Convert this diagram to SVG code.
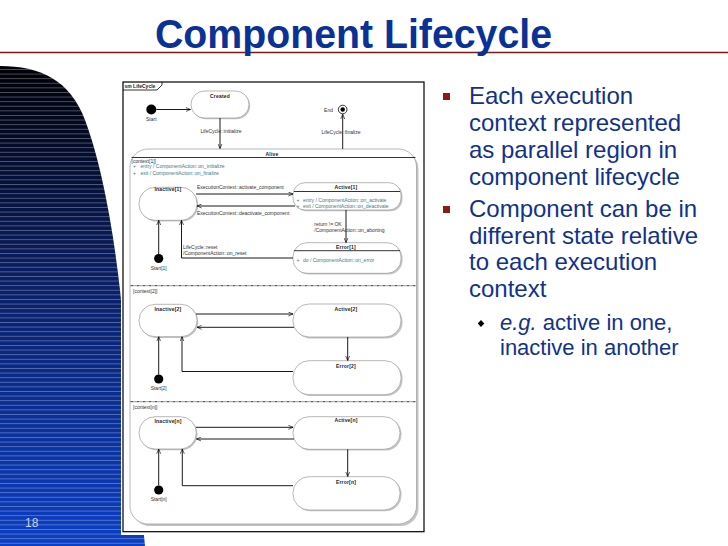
<svg xmlns="http://www.w3.org/2000/svg" width="728" height="546" viewBox="0 0 728 546">
<defs>
<linearGradient id="bg" x1="0" y1="66" x2="0" y2="546" gradientUnits="userSpaceOnUse">
<stop offset="0" stop-color="#000006"/>
<stop offset="0.45" stop-color="#0a1f66"/>
<stop offset="1" stop-color="#0c3fc4"/>
</linearGradient>
<pattern id="stripes" x="0" y="0" width="10" height="4.6" patternUnits="userSpaceOnUse">
<rect x="0" y="0" width="10" height="0.8" fill="#ffffff" fill-opacity="0.35"/>
</pattern>
<marker id="arr" viewBox="0 0 8 8" refX="7.5" refY="4" markerWidth="5" markerHeight="5" markerUnits="userSpaceOnUse" orient="auto">
<path d="M0,0.8 L7.5,4 L0,7.2" fill="none" stroke="#000" stroke-width="1"/>
</marker>
<style>
.lbl{font-family:"Liberation Sans",Arial,sans-serif;font-size:5px;fill:#333}
.nm{font-family:"Liberation Sans",Arial,sans-serif;font-size:5px;font-weight:bold;fill:#222;text-anchor:middle;letter-spacing:0.2px}
.act{font-family:"Liberation Sans",Arial,sans-serif;font-size:5px;fill:#3d7c82}
.mid{text-anchor:middle}
.st{fill:#fff;stroke:#9a9a9a;stroke-width:0.7}
.sh{fill:#c4c4c4}
.sep{stroke:#000;stroke-width:0.8}
.con{fill:none;stroke:#000;stroke-width:0.9;marker-end:url(#arr)}
.rsep{stroke:#000;stroke-width:0.8;stroke-dasharray:3,1,1,1}
.bul{font-family:"Liberation Sans",Arial,sans-serif;font-size:24px;fill:#12328a}
.sub{font-family:"Liberation Sans",Arial,sans-serif;font-size:22px;fill:#12328a}
</style>
</defs>
<rect x="0" y="0" width="728" height="546" fill="#fff"/>
<g id="decoration">
<path d="M0,66 C40,66 70,80 85,120 C100,160 112,220 120,290 L145,546 L0,546 Z" fill="url(#bg)"/>
<path d="M0,66 C40,66 70,80 85,120 C100,160 112,220 120,290 L145,546 L0,546 Z" fill="url(#stripes)"/>
<line x1="0" y1="52.5" x2="728" y2="52.5" stroke="#7a1a1a" stroke-width="1.4"/>
</g>
<text x="155" y="48" font-family="Liberation Sans,Arial,sans-serif" font-size="40" font-weight="bold" fill="#0a3296" textLength="397" lengthAdjust="spacingAndGlyphs">Component Lifecycle</text>
<text x="25" y="527" font-family="Liberation Sans,Arial,sans-serif" font-size="12" fill="#c8d2ee">18</text>
<g id="bullets">
<rect x="443" y="93" width="7" height="7" fill="#8b1a1a"/>
<text class="bul" x="469" y="104">Each execution</text>
<text class="bul" x="469" y="131">context represented</text>
<text class="bul" x="469" y="158">as parallel region in</text>
<text class="bul" x="469" y="185">component lifecycle</text>
<rect x="443" y="206" width="7" height="7" fill="#8b1a1a"/>
<text class="bul" x="469" y="216.5">Component can be in</text>
<text class="bul" x="469" y="243.5">different state relative</text>
<text class="bul" x="469" y="270">to each execution</text>
<text class="bul" x="469" y="297">context</text>
<polygon points="481,320 484.3,323.5 481,327 477.7,323.5" fill="#000"/>
<text class="sub" x="500" y="330"><tspan font-style="italic">e.g.</tspan> active in one,</text>
<text class="sub" x="500" y="355">inactive in another</text>
</g>
<rect x="121" y="78" width="307" height="457" fill="#fff"/>
<g id="frame">
<rect x="123" y="82" width="301" height="449.7" fill="none" stroke="#000" stroke-width="1.2"/>
<path d="M123,90 L157,90 L162,85 L162,82" fill="none" stroke="#000" stroke-width="0.8"/>
<text x="124.5" y="88" font-family="Liberation Sans,Arial,sans-serif" font-size="5" font-weight="bold" fill="#222">sm LifeCycle</text>
</g>
<g id="start">
<circle cx="151.3" cy="109.5" r="5" fill="#000"/>
<text class="lbl mid" x="151.3" y="120.5">Start</text>
</g>
<g id="created">
<rect class="sh" x="192.2" y="92.2" width="58" height="27" rx="13.5"/>
<rect class="st" x="191" y="91" width="58" height="27" rx="13.5"/>
<text class="nm" x="220" y="97.8">Created</text>
</g>
<g id="end">
<circle cx="342.7" cy="109.5" r="4.3" fill="#fff" stroke="#000" stroke-width="0.8"/>
<circle cx="342.7" cy="109.5" r="2.2" fill="#000"/>
<text class="lbl" x="333" y="111.5" text-anchor="end">End</text>
</g>
<g id="alive">
<rect class="sh" x="132" y="151" width="286.5" height="375" rx="18"/>
<rect class="st" x="130" y="149" width="286.5" height="375" rx="18"/>
<text class="nm" x="272" y="155.5">Alive</text>
<line class="sep" x1="131.5" y1="157.5" x2="415.5" y2="157.5"/>
<text class="lbl" x="131.5" y="163.3" font-size="4.6">[context[1]]</text>
<text class="act" x="133" y="168">+</text>
<text class="act" x="140.5" y="168">entry / ComponentAction::on_initialize</text>
<text class="act" x="133" y="174.5">+</text>
<text class="act" x="140.5" y="174.5">exit / ComponentAction::on_finalize</text>
<line class="rsep" x1="130.5" y1="285.7" x2="416" y2="285.7"/>
<text class="lbl" x="133" y="292.5">[context[2]]</text>
<line class="rsep" x1="130.5" y1="401.7" x2="416" y2="401.7"/>
<text class="lbl" x="133" y="409">[context[n]]</text>
</g>
<g id="inactive1">
<rect class="sh" x="140.2" y="188.5" width="58" height="33" rx="16"/>
<rect class="st" x="139" y="187.3" width="58" height="33" rx="16"/>
<text class="nm" x="168" y="190.8">Inactive[1]</text>
</g>
<g id="active1">
<rect class="sh" x="294.5" y="184" width="108" height="27.3" rx="12"/>
<rect class="st" x="293" y="182.7" width="108" height="27.3" rx="12"/>
<text class="nm" x="346" y="189.3">Active[1]</text>
<line class="sep" x1="294" y1="191.5" x2="400" y2="191.5"/>
<text class="act" x="296.5" y="202.3">+</text>
<text class="act" x="303" y="202.3">entry / ComponentAction::on_activate</text>
<text class="act" x="296.5" y="208.3">+</text>
<text class="act" x="303" y="208.3">exit / ComponentAction::on_deactivate</text>
</g>
<g id="error1">
<rect class="sh" x="294.5" y="244" width="108" height="30.6" rx="14"/>
<rect class="st" x="293" y="242.7" width="108" height="30.6" rx="14"/>
<text class="nm" x="346" y="248.6">Error[1]</text>
<line class="sep" x1="294" y1="250.7" x2="400" y2="250.7"/>
<text class="act" x="296.5" y="262.4">+</text>
<text class="act" x="303" y="262.4">do / ComponentAction::on_error</text>
</g>
<g id="start1">
<circle cx="158.7" cy="258.5" r="4.6" fill="#000"/>
<text class="lbl mid" x="158.7" y="270">Start[1]</text>
</g>
<g id="inactive2">
<rect class="sh" x="140.2" y="305.5" width="58" height="32.4" rx="16"/>
<rect class="st" x="139" y="304.3" width="58" height="32.4" rx="16"/>
<text class="nm" x="168" y="310.8">Inactive[2]</text>
</g>
<g id="active2">
<rect class="sh" x="294.5" y="305.5" width="108" height="33" rx="16"/>
<rect class="st" x="293" y="304" width="108" height="33" rx="16"/>
<text class="nm" x="346" y="310.8">Active[2]</text>
</g>
<g id="error2">
<rect class="sh" x="294.5" y="362" width="108" height="34" rx="16"/>
<rect class="st" x="293" y="360.7" width="108" height="34" rx="16"/>
<text class="nm" x="346" y="367.6">Error[2]</text>
</g>
<g id="start2">
<circle cx="158.7" cy="379" r="4.6" fill="#000"/>
<text class="lbl mid" x="158.7" y="390">Start[2]</text>
</g>
<g id="inactiveN">
<rect class="sh" x="140.2" y="418" width="57.3" height="32.3" rx="16"/>
<rect class="st" x="139" y="416.7" width="57.3" height="32.3" rx="16"/>
<text class="nm" x="168" y="422.5">Inactive[n]</text>
</g>
<g id="activeN">
<rect class="sh" x="294.5" y="418" width="107" height="32.6" rx="16"/>
<rect class="st" x="293" y="416.7" width="107" height="32.6" rx="16"/>
<text class="nm" x="346" y="422.3">Active[n]</text>
</g>
<g id="errorN">
<rect class="sh" x="294.5" y="478" width="107" height="33.3" rx="16"/>
<rect class="st" x="293" y="476.7" width="107" height="33.3" rx="16"/>
<text class="nm" x="346" y="483.8">Error[n]</text>
</g>
<g id="startN">
<circle cx="158.7" cy="490" r="4.6" fill="#000"/>
<text class="lbl mid" x="158.7" y="501">Start[n]</text>
</g>
<g id="connectors">
<path class="con" d="M156.3,109.5 L190.5,109.5"/>
<path class="con" d="M220,118 L220,148.5"/>
<text class="lbl mid" x="221" y="133">LifeCycle::initialize</text>
<path class="con" d="M342.7,149 L342.7,114.3"/>
<text class="lbl mid" x="341" y="134">LifeCycle::finalize</text>
<path class="con" d="M196,194 L293,194"/>
<text class="lbl" x="197" y="189">ExecutionContext::activate_component</text>
<path class="con" d="M295,206 L197,206"/>
<text class="lbl" x="197" y="215">ExecutionContext::deactivate_component</text>
<path class="con" d="M346,210 L346,242.5"/>
<text class="lbl" x="314.3" y="225.5">return != OK</text>
<text class="lbl" x="314.3" y="231.5">/ComponentAction::on_aborting</text>
<path class="con" d="M293,258 L181.5,258 L181.5,220.3"/>
<text class="lbl" x="183" y="249.4">LifeCycle::reset</text>
<text class="lbl" x="183" y="255">/ComponentAction::on_reset</text>
<path class="con" d="M158.7,254 L158.7,220.3"/>
<path class="con" d="M196,314 L293,314"/>
<path class="con" d="M294,327.3 L197,327.3"/>
<path class="con" d="M347.7,337 L347.7,360.5"/>
<path class="con" d="M293,371.5 L182,371.5 L182,336.8"/>
<path class="con" d="M158.7,374.4 L158.7,336.8"/>
<path class="con" d="M196,427.3 L293,427.3"/>
<path class="con" d="M294,439 L196.5,439"/>
<path class="con" d="M347.7,449.3 L347.7,476.5"/>
<path class="con" d="M293,485.7 L182.3,485.7 L182.3,449.1"/>
<path class="con" d="M158.7,485.4 L158.7,449.1"/>
</g>
</svg>
